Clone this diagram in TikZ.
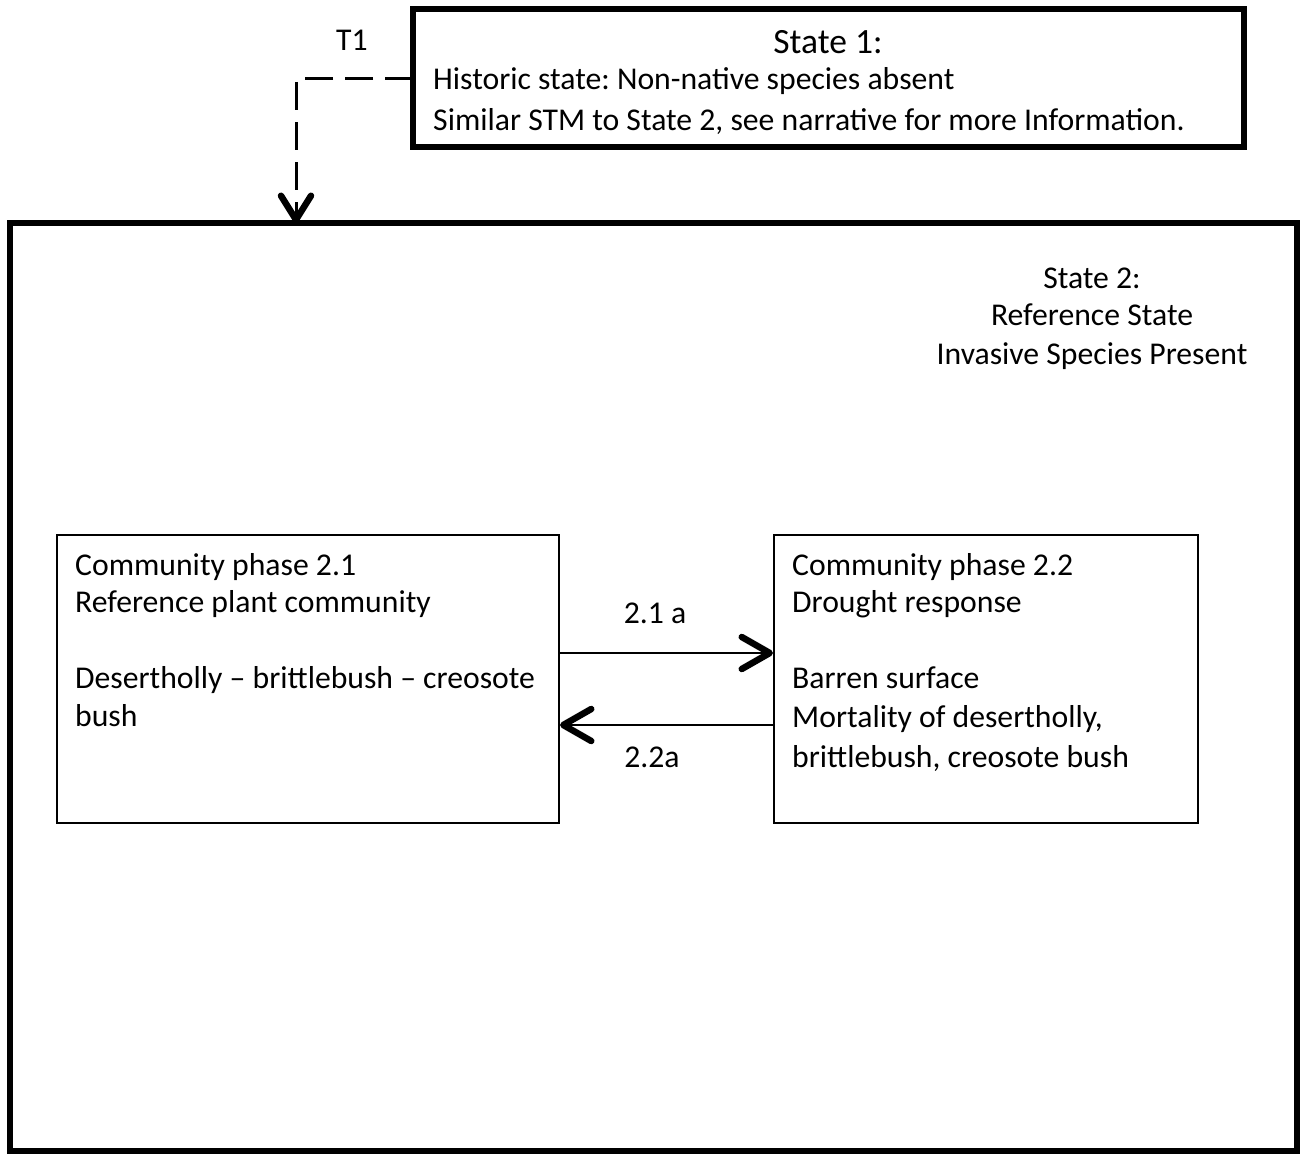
\documentclass[tikz,border=0pt]{standalone}
\usepackage{fontspec}
\setmainfont{Carlito}
\usetikzlibrary{arrows.meta}
\begin{document}
\frenchspacing
\begin{tikzpicture}[x=1pt,y=-1pt,
  thickbox/.style={draw,line width=6pt},
  thinbox/.style={draw,line width=2pt},
  txt/.style={inner sep=0pt,anchor=base west,font=\fontsize{31.7}{36}\selectfont},
  ctxt/.style={inner sep=0pt,anchor=base,font=\fontsize{31.7}{36}\selectfont},
  trans/.style={line width=2.4pt,-{Straight Barb[length=28pt,width=32pt,line width=6.5pt,round]}},
  dtrans/.style={line width=3pt,dash pattern=on 28pt off 12pt,-{Straight Barb[length=24pt,width=30pt,line width=6.5pt,round]}}
]
\useasboundingbox (0,0) rectangle (1302,1156);
% State 1
\draw[thickbox] (413,9) rectangle (1244,147);
\coordinate (s1w) at (413,79);
\node[inner sep=0pt,anchor=base,font=\fontsize{35.5}{40}\selectfont] (s1t) at (828,54) {State 1:};
\node[txt] (s1a) at (433,89) {Historic state: Non-native species absent};
\node[txt] (s1b) at (433,130) {Similar STM to State 2, see narrative for more Information.};
% State 2
\draw[thickbox] (10,223) rectangle (1297,1151);
\coordinate (s2n) at (296,223);
\node[ctxt] (s2a) at (1092,288) {State 2:};
\node[ctxt] (s2b) at (1092,325) {Reference State};
\node[ctxt] (s2c) at (1092,364) {Invasive Species Present};
% T1
\draw[dtrans] (s1w) -| (s2n);
\node[ctxt] (t1) at (352,51) {T1};
% phase 2.1
\node[thinbox,inner sep=0pt,minimum width=502pt,minimum height=288pt,anchor=north west] (p21) at (56,534) {};
\node[txt] (p21a) at (75,575) {Community phase 2.1};
\node[txt] (p21b) at (75,612) {Reference plant community};
\node[txt] (p21c) at (75,688) {Desertholly – brittlebush – creosote};
\node[txt] (p21d) at (75,726) {bush};
% phase 2.2
\node[thinbox,inner sep=0pt,minimum width=424pt,minimum height=288pt,anchor=north west] (p22) at (773,534) {};
\node[txt] (p22a) at (792,575) {Community phase 2.2};
\node[txt] (p22b) at (792,612) {Drought response};
\node[txt] (p22c) at (792,688) {Barren surface};
\node[txt] (p22d) at (792,727) {Mortality of desertholly,};
\node[txt] (p22e) at (792,767) {brittlebush, creosote bush};
% transitions
\draw[trans] (p21.east |- 0,653) -- (p22.west |- 0,653);
\draw[trans] (p22.west |- 0,725) -- (p21.east |- 0,725);
\node[ctxt] (l21) at (655,623) {2.1 a};
\node[ctxt] (l22) at (652,767) {2.2a};
\end{tikzpicture}
\end{document}
